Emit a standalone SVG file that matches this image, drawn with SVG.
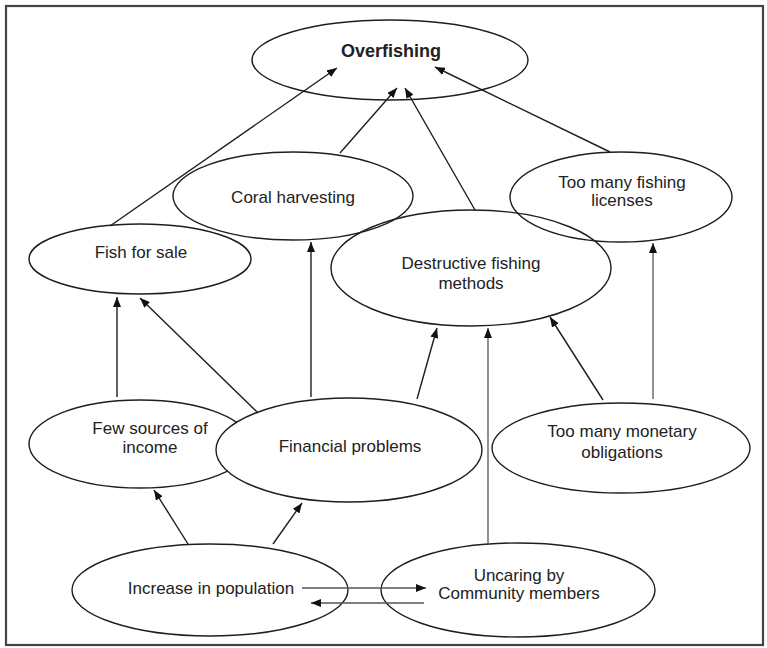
<svg xmlns="http://www.w3.org/2000/svg" width="767" height="648" viewBox="0 0 767 648">
  <style>
    .node ellipse { fill: none; stroke: #1e1e1e; stroke-width: 1.4; }
    .node ellipse.opaque { fill: #ffffff; }
    .node text { font-family: "Liberation Sans", Arial, sans-serif; font-size: 17px; fill: #222; text-anchor: middle; }
    .node text.title { font-size: 18px; font-weight: bold; }
    .edges line { stroke: #1e1e1e; stroke-width: 1.4; marker-end: url(#arrow); }
    .edges line.light { stroke: #555; stroke-width: 1.3; }
  </style>
  <defs>
    <marker id="arrow" markerUnits="userSpaceOnUse" markerWidth="10" markerHeight="8" refX="10" refY="4" orient="auto">
      <path d="M0,0 L10,4 L0,8 z" fill="#111"/>
    </marker>
  </defs>

  <rect x="0" y="0" width="767" height="648" fill="#ffffff"/>
  <!-- outer frame -->
  <rect x="6" y="6" width="757" height="639" fill="none" stroke="#444" stroke-width="2.2"/>

  <g id="overfishing" class="node">
    <ellipse cx="390" cy="60" rx="138" ry="40"/>
    <text class="title" x="391" y="57">Overfishing</text>
  </g>
  <g id="coral-harvesting" class="node">
    <ellipse cx="293" cy="196" rx="120" ry="44"/>
    <text x="293" y="203">Coral harvesting</text>
  </g>
  <g id="fishing-licenses" class="node">
    <ellipse cx="621" cy="197" rx="111" ry="45"/>
    <text x="622" y="188">Too many fishing</text>
    <text x="622" y="206">licenses</text>
  </g>
  <g id="fish-for-sale" class="node">
    <ellipse cx="140" cy="259" rx="111" ry="35"/>
    <text x="141" y="258">Fish for sale</text>
  </g>
  <g id="destructive-methods" class="node">
    <ellipse cx="471" cy="268" rx="140" ry="58"/>
    <text x="471" y="269">Destructive fishing</text>
    <text x="471" y="289">methods</text>
  </g>
  <g id="few-sources" class="node">
    <ellipse cx="140" cy="444" rx="111" ry="44"/>
    <text x="150" y="434">Few sources of</text>
    <text x="150" y="453">income</text>
  </g>
  <g id="financial-problems" class="node">
    <ellipse class="opaque" cx="349" cy="450" rx="133" ry="52"/>
    <text x="350" y="452">Financial problems</text>
  </g>
  <g id="monetary-obligations" class="node">
    <ellipse cx="621" cy="448" rx="129" ry="45"/>
    <text x="622" y="437">Too many monetary</text>
    <text x="622" y="458">obligations</text>
  </g>
  <g id="population-increase" class="node">
    <ellipse cx="210" cy="590" rx="138" ry="46"/>
    <text x="211" y="594">Increase in population</text>
  </g>
  <g id="uncaring-community" class="node">
    <ellipse cx="518" cy="590" rx="137" ry="47"/>
    <text x="519" y="581">Uncaring by</text>
    <text x="519" y="599">Community members</text>
  </g>

  <g id="connectors" class="edges">
    <line x1="110" y1="226" x2="337" y2="68"/>
    <line x1="340" y1="153" x2="397" y2="88"/>
    <line x1="475" y1="210" x2="405" y2="88"/>
    <line x1="610" y1="152" x2="435" y2="67"/>
    <line x1="117" y1="397" x2="117" y2="297"/>
    <line x1="258" y1="413" x2="140" y2="298"/>
    <line x1="311" y1="397" x2="311" y2="242"/>
    <line x1="417" y1="399" x2="437" y2="328"/>
    <line x1="603" y1="400" x2="550" y2="317"/>
    <line class="light" x1="653" y1="399" x2="653" y2="243"/>
    <line class="light" x1="488" y1="544" x2="488" y2="328"/>
    <line x1="188" y1="544" x2="154" y2="490"/>
    <line x1="273" y1="544" x2="302" y2="503"/>
    <line class="light" x1="302" y1="588" x2="426" y2="588"/>
    <line class="light" x1="424" y1="603" x2="311" y2="603"/>
  </g>
</svg>
